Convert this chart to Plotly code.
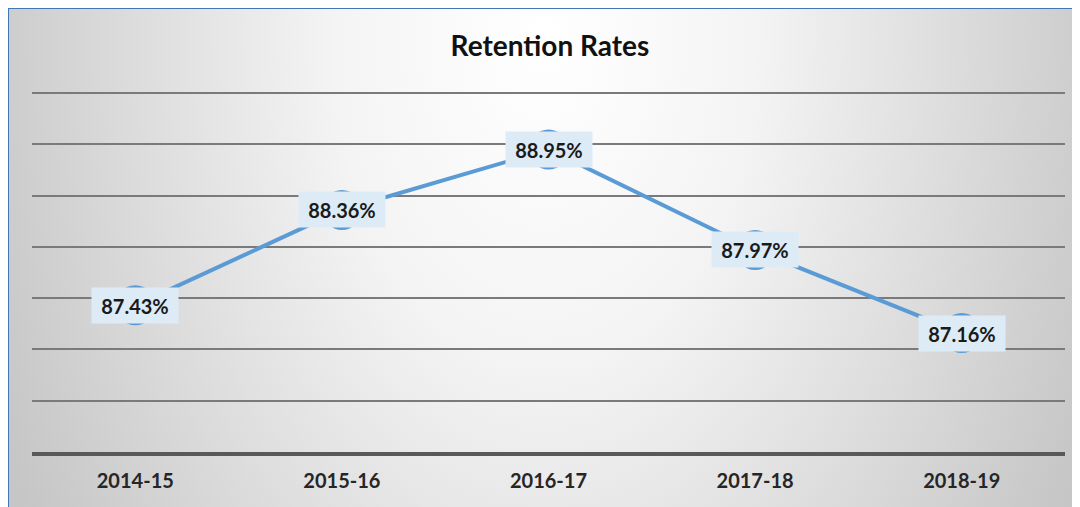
import base64
import plotly.graph_objects as go

# ---- data ----
categories = ["2014-15", "2015-16", "2016-17", "2017-18", "2018-19"]
retention = [87.43, 88.36, 88.95, 87.97, 87.16]
title_text = "Retention Rates"

# The page body adds an 8px margin, so figure coordinates = page - 8.
W, H = 1080, 507
L, R, T, B = 24, 23, 83, 63
PW, PH = W - L - R, H - T - B


def px_x(px):
    return (px - L) / PW


def px_y(py):
    return (H - B - py) / PH


FONT = "Lato, 'Open Sans', sans-serif"

svg = """<svg xmlns='http://www.w3.org/2000/svg' width='1080' height='507' viewBox='0 0 1080 507'>
<defs><radialGradient id='g' gradientUnits='userSpaceOnUse' cx='536' cy='25' r='600'
gradientTransform='translate(536 25) scale(1 1.55) translate(-536 -25)'>
<stop offset='0' stop-color='#ffffff'/><stop offset='0.35' stop-color='#f4f4f4'/>
<stop offset='1' stop-color='#c6c6c6'/></radialGradient></defs>
<rect x='0' y='0' width='1080' height='507' fill='url(#g)'/></svg>"""
src = "data:image/svg+xml;base64," + base64.b64encode(svg.encode()).decode()

fig = go.Figure()
fig.add_trace(go.Scatter(
    x=categories, y=retention, mode="lines+markers",
    line=dict(color="#5B9BD5", width=4),
    marker=dict(size=40, color="#5B9BD5"),
    hoverinfo="skip", showlegend=False,
))

for c, v in zip(categories, retention):
    fig.add_annotation(
        x=c, y=v, text=f"<b>{v:.2f}%</b>", showarrow=False,
        font=dict(family=FONT, size=20, color="#1a1a1a"),
        bgcolor="#DDEBF7", width=84, height=33, borderpad=1,
        xanchor="center", yanchor="middle",
    )

fig.add_layout_image(dict(
    source=src, xref="paper", yref="paper",
    x=px_x(0), y=px_y(0), sizex=px_x(W) - px_x(0), sizey=px_y(0) - px_y(H),
    xanchor="left", yanchor="top", sizing="stretch", layer="below",
))

fig.add_shape(type="rect", xref="paper", yref="paper",
              x0=px_x(0), x1=px_x(W + 10), y0=px_y(0), y1=px_y(H + 10),
              line=dict(color="#3E78B8", width=2), fillcolor="rgba(0,0,0,0)",
              layer="above")

fig.update_layout(
    width=W, height=H,
    margin=dict(l=L, r=R, t=T, b=B, pad=0),
    paper_bgcolor="white", plot_bgcolor="rgba(0,0,0,0)",
    title=dict(text=f"<b>{title_text}</b>", x=542 / W, xanchor="center",
               y=1 - 38 / H, yanchor="middle", yref="container",
               font=dict(family=FONT, size=28, color="#111111")),
    xaxis=dict(
        type="category", showgrid=False, showline=True, linecolor="#595959",
        linewidth=3.5, ticks="", ticklabelstandoff=8,
        tickfont=dict(family=FONT, size=20, color="#262626", weight="bold"),
        range=[-0.5, 4.5], fixedrange=True,
    ),
    yaxis=dict(
        range=[86, 89.52], dtick=0.5, tick0=86, showticklabels=False,
        showgrid=True, gridcolor="#7a7a7a", gridwidth=1.5, zeroline=False,
        showline=False, fixedrange=True,
    ),
)

fig.write_html("out.html")
